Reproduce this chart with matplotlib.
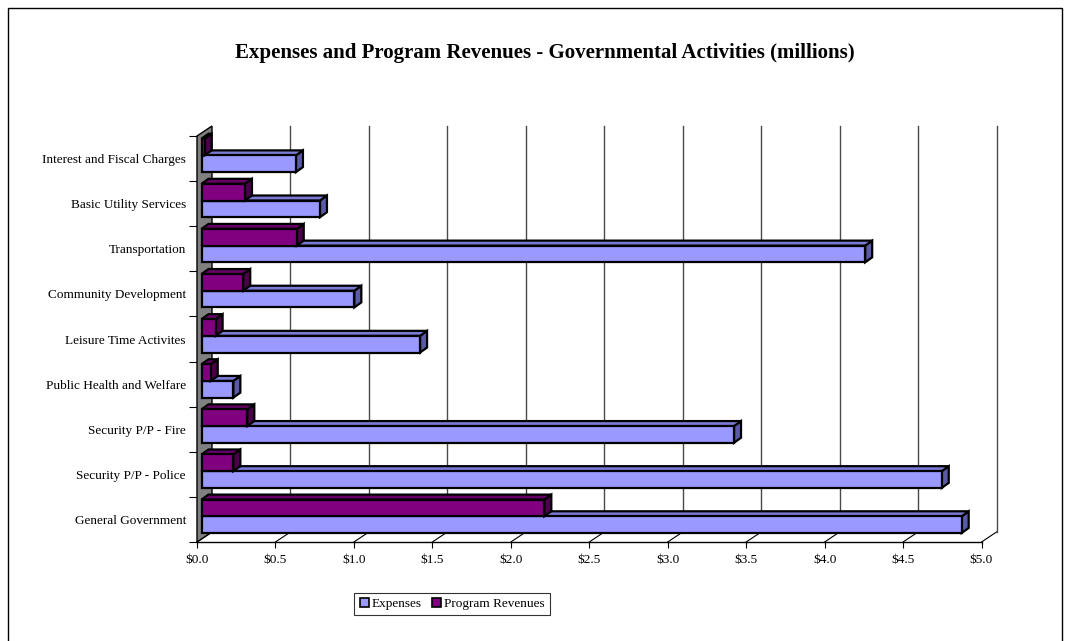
import matplotlib
matplotlib.use("Agg")
import matplotlib.pyplot as plt
from matplotlib.patches import Polygon, Rectangle, Patch
import numpy as np

# ---------------- data ----------------
categories = ["General Government", "Security P/P - Police", "Security P/P - Fire",
              "Public Health and Welfare", "Leisure Time Activites", "Community Development",
              "Transportation", "Basic Utility Services", "Interest and Fiscal Charges"]
expenses = [4.845, 4.718, 3.394, 0.203, 1.393, 0.974, 4.23, 0.755, 0.602]
revenues = [2.185, 0.203, 0.292, 0.059, 0.09, 0.266, 0.607, 0.277, 0.02]
x_ticks = [0.0, 0.5, 1.0, 1.5, 2.0, 2.5, 3.0, 3.5, 4.0, 4.5, 5.0]
x_tick_labels = ["$0.0", "$0.5", "$1.0", "$1.5", "$2.0", "$2.5", "$3.0", "$3.5", "$4.0", "$4.5", "$5.0"]
title = "Expenses and Program Revenues - Governmental Activities (millions)"
series_names = ["Expenses", "Program Revenues"]

plt.rcParams['font.family'] = ['Liberation Serif', 'DejaVu Serif']

W, H = 1071, 641
fig = plt.figure(figsize=(W / 100, H / 100), dpi=100)

# figure border
fig.patches.append(Rectangle((8 / W, -0.02), (1062 - 8) / W, (H - 8) / H + 0.02,
                             transform=fig.transFigure, fill=False, ec='black', lw=1.0))

ax = fig.add_axes([197 / W, (H - 542) / H, (981.5 - 197) / W, (542 - 136) / H])
ax.set_xlim(0, 5)
ax.set_ylim(-0.5, len(categories) - 0.5)
ax.patch.set_visible(False)
for s in ax.spines.values():
    s.set_visible(False)


def px_to_data(dx_px, dy_px):
    p0 = ax.transData.transform((0, 0))
    q = ax.transData.inverted().transform(p0 + np.array([dx_px, dy_px]))
    return q[0], q[1]


wdx, wdy = px_to_data(15, 10)    # wall depth
bdx, bdy = px_to_data(7, 5)      # bar depth
x_shift, _ = px_to_data(4.5, 0)  # bar front plane offset

ymin, ymax = -0.5, len(categories) - 0.5

# back wall gridlines
for t in x_ticks[1:]:
    ax.plot([t + wdx, t + wdx], [ymin + wdy, ymax + wdy], color='#4a4a4a', lw=1.0,
            clip_on=False, zorder=1)

# floor lines
for t in x_ticks:
    ax.plot([t, t + wdx], [ymin, ymin + wdy], color='black', lw=0.8, clip_on=False, zorder=1)
ax.plot([0, 5], [ymin, ymin], color='black', lw=1.0, clip_on=False, zorder=1)

# left wall
ax.add_patch(Polygon([(0, ymin), (wdx, ymin + wdy), (wdx, ymax + wdy), (0, ymax)],
                     closed=True, fc='#808080', ec='black', lw=1.0, clip_on=False, zorder=2))

h = 0.37
exp_off = -0.115
rev_off = 0.255
styles = {
    'exp': ('#9999FF', '#7B7BD6', '#5A5AA8'),
    'rev': ('#800080', '#660066', '#4C004C'),
}


def draw_bar(yc, v, key):
    front, top, side = styles[key]
    x0 = x_shift
    x1 = x_shift + v
    y0 = yc - h / 2
    y1 = yc + h / 2
    lw = 1.6
    ax.add_patch(Polygon([(x1, y0), (x1 + bdx, y0 + bdy), (x1 + bdx, y1 + bdy), (x1, y1)],
                         closed=True, fc=side, ec='black', lw=lw, clip_on=False, zorder=3,
                         joinstyle='miter'))
    ax.add_patch(Polygon([(x0, y1), (x1, y1), (x1 + bdx, y1 + bdy), (x0 + bdx, y1 + bdy)],
                         closed=True, fc=top, ec='black', lw=lw, clip_on=False, zorder=3,
                         joinstyle='miter'))
    ax.add_patch(Rectangle((x0, y0), v, h, fc=front, ec='black', lw=lw, clip_on=False,
                           zorder=3, joinstyle='miter'))


for i in range(len(categories) - 1, -1, -1):
    draw_bar(i + exp_off, expenses[i], 'exp')
    draw_bar(i + rev_off, revenues[i], 'rev')

# ticks and labels
ax.set_xticks(x_ticks)
ax.set_xticklabels(x_tick_labels, fontsize=9.5)
ax.tick_params(axis='x', direction='out', length=4.5, width=0.8, pad=4, colors='black')
ax.set_yticks(range(len(categories)))
ax.set_yticklabels(categories, fontsize=9.5)
ax.set_yticks(np.arange(-0.5, len(categories), 1.0), minor=True)
ax.tick_params(axis='y', which='major', length=0, pad=8)
ax.tick_params(axis='y', which='minor', direction='out', length=6, width=0.8)

fig.text(545 / W, 1 - 53 / H, title, ha='center', va='center', fontsize=15, fontweight='bold')

handles = [Patch(fc=styles['exp'][0], ec='black', lw=1.2),
           Patch(fc=styles['rev'][0], ec='black', lw=1.2)]
leg = fig.legend(handles, series_names, loc='center', bbox_to_anchor=(452 / W, 1 - 604 / H),
                 ncol=2, fontsize=9.5, frameon=True, fancybox=False, edgecolor='black',
                 handlelength=0.7, handleheight=0.7, handletextpad=0.2, columnspacing=0.8,
                 borderpad=0.4)
leg.get_frame().set_linewidth(0.8)

fig.savefig("out.png", dpi=100)
